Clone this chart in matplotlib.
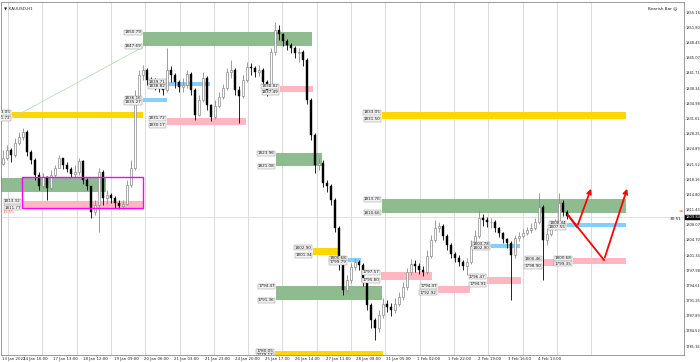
import matplotlib.pyplot as plt
import numpy as np
from matplotlib.patches import Rectangle
import matplotlib.transforms as mtransforms

# XAUUSD H1 candles (one candle per ~2.5 hours)
first_open = 1821.5
close = [1822.9, 1824.6, 1823.5, 1826.2, 1827.5, 1828.6, 1824.2, 1822.4, 1819.1, 1816.6,
         1818.6, 1816.2, 1819.1, 1820.6, 1822.9, 1821.3, 1820.4, 1819.3, 1819.8, 1822.2,
         1818.0, 1816.6, 1810.9, 1812.4, 1819.8, 1814.0, 1814.6, 1814.0, 1812.9, 1812.2,
         1812.6, 1816.9, 1820.6, 1835.7, 1841.3, 1842.4, 1840.2, 1839.7, 1839.5, 1839.0,
         1837.9, 1842.4, 1841.3, 1839.7, 1838.6, 1839.0, 1841.5, 1837.9, 1832.4, 1835.7,
         1840.6, 1834.6, 1832.0, 1834.4, 1836.4, 1838.4, 1841.9, 1842.4, 1837.9, 1836.6,
         1840.2, 1843.0, 1842.8, 1841.9, 1842.4, 1839.7, 1837.9, 1846.4, 1851.2, 1850.4,
         1848.8, 1847.9, 1847.3, 1846.1, 1846.4, 1844.6, 1835.7, 1828.0, 1821.3, 1821.7,
         1817.3, 1816.6, 1813.5, 1807.3, 1799.8, 1793.6, 1795.8, 1798.7, 1799.8, 1799.1,
         1795.4, 1790.3, 1786.9, 1785.2, 1788.0, 1790.5, 1789.8, 1789.2, 1790.5, 1792.0,
         1794.3, 1797.6, 1799.3, 1798.9, 1798.0, 1797.6, 1801.1, 1804.7, 1807.3, 1807.8,
         1805.6, 1803.6, 1801.6, 1800.7, 1799.8, 1798.9, 1799.8, 1803.3, 1805.6, 1809.5,
         1809.1, 1808.7, 1808.7, 1807.3, 1806.2, 1804.9, 1804.0, 1801.3, 1805.1, 1805.6,
         1806.2, 1806.9, 1807.3, 1808.7, 1812.0, 1804.7, 1805.9, 1807.8, 1808.4, 1812.9,
         1810.9, 1810.0]
high = [1824.6, 1825.7, 1825.1, 1827.3, 1828.6, 1829.5, 1829.1, 1824.6, 1822.9, 1819.8,
        1819.5, 1818.9, 1820.2, 1821.3, 1823.5, 1822.9, 1822.0, 1820.9, 1821.3, 1822.9,
        1822.4, 1818.4, 1816.6, 1813.5, 1820.6, 1820.2, 1815.8, 1815.1, 1814.4, 1813.5,
        1813.5, 1818.0, 1822.4, 1837.9, 1842.4, 1843.5, 1842.8, 1840.8, 1840.6, 1840.2,
        1839.7, 1847.3, 1843.3, 1841.7, 1840.2, 1840.6, 1842.4, 1841.9, 1838.4, 1836.8,
        1841.9, 1841.0, 1834.8, 1835.7, 1837.5, 1839.3, 1842.8, 1844.6, 1842.8, 1838.8,
        1841.3, 1844.1, 1843.9, 1843.3, 1843.5, 1842.8, 1840.2, 1847.3, 1853.0, 1852.3,
        1850.6, 1849.2, 1848.4, 1847.7, 1847.3, 1846.8, 1845.0, 1836.2, 1828.4, 1822.9,
        1822.4, 1818.0, 1817.1, 1814.0, 1807.8, 1800.2, 1796.9, 1799.6, 1800.7, 1800.2,
        1799.6, 1795.8, 1790.7, 1787.4, 1789.2, 1791.8, 1791.4, 1790.7, 1791.8, 1793.1,
        1795.4, 1798.5, 1800.4, 1800.2, 1799.6, 1798.9, 1802.5, 1805.8, 1809.1, 1808.7,
        1808.2, 1806.0, 1804.0, 1802.0, 1801.3, 1800.2, 1800.7, 1804.7, 1806.9, 1811.3,
        1810.4, 1809.8, 1809.5, 1809.1, 1807.6, 1806.4, 1805.1, 1804.4, 1805.8, 1806.4,
        1807.1, 1807.6, 1808.4, 1809.5, 1815.1, 1812.4, 1807.3, 1808.7, 1809.3, 1815.1,
        1813.5, 1811.3]
low = [1821.3, 1822.4, 1822.0, 1823.1, 1825.7, 1826.9, 1823.3, 1821.5, 1818.0, 1815.8,
       1816.2, 1813.5, 1815.8, 1818.4, 1820.6, 1820.4, 1819.8, 1818.6, 1818.4, 1819.1,
       1817.1, 1815.8, 1809.5, 1810.2, 1806.4, 1812.4, 1812.6, 1812.9, 1811.8, 1811.5,
       1811.5, 1812.4, 1816.4, 1820.2, 1835.3, 1840.2, 1839.0, 1838.4, 1837.9, 1837.5,
       1836.8, 1837.5, 1839.7, 1838.4, 1837.5, 1837.5, 1838.4, 1836.8, 1831.3, 1832.2,
       1835.3, 1833.5, 1831.1, 1831.5, 1833.9, 1835.9, 1837.9, 1840.6, 1836.8, 1830.6,
       1836.2, 1839.7, 1841.3, 1840.8, 1841.0, 1838.8, 1836.6, 1837.3, 1845.7, 1849.0,
       1847.7, 1846.8, 1846.1, 1845.0, 1844.1, 1843.3, 1834.8, 1826.9, 1819.5, 1820.2,
       1816.4, 1815.3, 1812.4, 1806.4, 1798.0, 1792.5, 1793.1, 1795.1, 1798.0, 1798.0,
       1794.5, 1789.2, 1785.2, 1782.5, 1784.3, 1787.4, 1788.7, 1787.8, 1788.5, 1790.0,
       1791.4, 1793.6, 1796.9, 1797.6, 1797.1, 1796.7, 1797.1, 1800.7, 1804.2, 1806.4,
       1804.7, 1802.5, 1800.7, 1799.8, 1798.9, 1798.0, 1797.0, 1799.3, 1802.9, 1805.1,
       1807.8, 1807.6, 1807.3, 1806.4, 1805.3, 1804.0, 1802.9, 1791.4, 1800.7, 1804.4,
       1805.1, 1805.8, 1806.2, 1806.9, 1808.2, 1795.8, 1803.6, 1805.6, 1806.9, 1807.8,
       1810.0, 1809.3]

# zones: (start bar, end bar, top price, bottom price)
green_zones = [(-1.25, 25.75, 1818.42, 1815.31), (35.0, 77.25, 1850.79, 1847.69),
               (68.25, 79.75, 1823.96, 1821.08), (68.25, 94.75, 1794.47, 1791.36),
               (94.75, 155.75, 1813.76, 1810.66)]
pink_zones = [(4.75, 35.0, 1813.32, 1811.77), (41.0, 60.75, 1831.72, 1830.17),
              (69.25, 77.5, 1838.82, 1837.49), (94.5, 107.25, 1797.57, 1795.80),
              (108.75, 116.75, 1794.47, 1792.92), (121.0, 129.5, 1796.47, 1794.91),
              (135.0, 137.75, 1800.46, 1798.90), (142.5, 155.75, 1800.68, 1799.35)]
blue_zones = [(35.0, 41.0, 1836.16, 1835.27), (41.0, 51.75, 1839.71, 1838.82),
              (86.25, 89.5, 1800.68, 1799.79), (122.0, 129.25, 1803.78, 1802.90),
              (141.0, 155.75, 1808.44, 1807.55)]
yellow_zones = [(2.25, 35.0, 1833.05, 1831.72), (77.5, 84.25, 1802.90, 1801.34),
                (68.0, 95.0, 1780.05, 1779.17), (94.75, 155.75, 1833.05, 1831.50)]
range_box = (4.75, 35.0, 1818.64, 1811.77)
trend_line = [(2.25, 1831.72), (35.0, 1847.47)]

# projected paths (red arrows)
path_a = [(141.25, 1810.21), (143.5, 1807.55), (147.25, 1816.64)]
path_b = [(141.25, 1810.21), (150.25, 1800.23), (156.25, 1816.64)]

bid = 1809.84
y_ticks = [1855.16, 1851.80, 1848.43, 1845.07, 1841.71, 1838.34, 1834.98, 1831.61,
           1828.25, 1824.89, 1821.52, 1818.16, 1814.80, 1811.43, 1808.07, 1804.70,
           1801.34, 1797.98, 1794.61, 1791.25, 1787.89, 1784.52, 1781.16]
x_labels = ["13 Jan 2022", "14 Jan 16:00", "17 Jan 13:00", "18 Jan 12:00", "19 Jan 09:00",
            "20 Jan 06:00", "21 Jan 03:00", "21 Jan 23:00", "24 Jan 20:00", "25 Jan 17:00",
            "26 Jan 14:00", "27 Jan 11:00", "28 Jan 08:00", "31 Jan 05:00", "1 Feb 02:00",
            "1 Feb 22:00", "2 Feb 19:00", "3 Feb 16:00", "4 Feb 13:00"]

fig = plt.figure(figsize=(7, 3.62), dpi=100)
ax = fig.add_axes([1 / 700, 7 / 362, 683 / 700, 353 / 362])
ax.set_xlim(-0.5, 170.25)
ax.set_ylim(1779.17, 1857.45)

# vertical grid
for gx in np.arange(18) * 8.575 + 1.25:
    ax.axvline(gx, color='#d4d4d4', lw=0.6, zorder=0)
ax.axhline(bid, color='#dcdcdc', lw=0.6, zorder=0)

lab_box = dict(boxstyle='square,pad=0.12', fc='#f2f2f2', ec='#8a8a8a', lw=0.3)


def draw_zones(zones, color):
    for s, e, top, bot in zones:
        ax.add_patch(Rectangle((s, bot), e - s, top - bot, fc=color, ec='none', zorder=1))
        if s > 0:
            for p in (top, bot):
                ax.text(s - 0.3, p, f"{p:.2f}", ha='right', va='center', fontsize=3.0,
                        color='#222222', bbox=lab_box, zorder=5, clip_on=True)


draw_zones(green_zones, '#8fbc8f')
draw_zones(pink_zones, '#ffb6c1')
draw_zones(blue_zones, '#87cefa')
draw_zones(yellow_zones, '#ffd700')

s, e, top, bot = range_box
ax.add_patch(Rectangle((s, bot), e - s, top - bot, fill=False, ec='#ff00ff', lw=1.0, zorder=4))
ax.plot([p[0] for p in trend_line], [p[1] for p in trend_line], color='#bcdcbc', lw=0.6, zorder=1)

# candles
c = np.array(close)
o = np.concatenate([[first_open], c[:-1]])
h = np.maximum(np.array(high), np.maximum(o, c))
lo = np.minimum(np.array(low), np.minimum(o, c))
x = np.arange(len(c))
bull = c >= o
ax.vlines(x[bull], lo[bull], h[bull], color='#8c8c8c', lw=0.6, zorder=3)
ax.vlines(x[~bull], lo[~bull], h[~bull], color='black', lw=0.6, zorder=3)
ax.bar(x[bull], np.maximum(c - o, 0.05)[bull], bottom=o[bull], width=0.5,
       color='white', edgecolor='#8c8c8c', lw=0.5, zorder=3)
ax.bar(x[~bull], (o - c)[~bull], bottom=c[~bull], width=0.5,
       color='black', edgecolor='black', lw=0.3, zorder=3)

# projection arrows
for path in (path_a, path_b):
    ax.plot([path[0][0], path[1][0]], [path[0][1], path[1][1]], color='red', lw=1.3, zorder=6)
    ax.annotate('', xy=path[2], xytext=path[1],
                arrowprops=dict(arrowstyle='->', color='red', lw=1.3, mutation_scale=7),
                zorder=6)

# axes styling
for sp in ax.spines.values():
    sp.set_color('#8a8a8a')
    sp.set_linewidth(0.6)
ax.yaxis.tick_right()
ax.set_yticks(y_ticks)
ax.set_yticklabels([f"{v:.2f}" for v in y_ticks])
xt = np.arange(len(x_labels)) * 7.57 + 0.5
xt[0] = -0.3
ax.set_xticks(xt)
ax.set_xticklabels(x_labels)
ax.get_xticklabels()[0].set_ha('left')
ax.tick_params(axis='x', labelsize=2.8, length=1.0, width=0.4, pad=0.4,
               colors='#8a8a8a', labelcolor='#222222')
ax.tick_params(axis='y', labelsize=2.6, length=1.0, width=0.4, pad=0.4,
               colors='#8a8a8a', labelcolor='#222222')

trans = mtransforms.blended_transform_factory(ax.transAxes, ax.transData)
ax.text(1.002, bid, f"{bid:.2f}", transform=trans, ha='left', va='center', fontsize=2.6,
        color='white', bbox=dict(boxstyle='square,pad=0.05', fc='black', ec='black'),
        clip_on=False, zorder=7)
ax.text(0.997, bid - 0.6, "30:51", transform=trans, ha='right', va='center', fontsize=3.0,
        color='#222222')
ax.text(0.999, bid + 1.2, "≈", transform=trans, ha='right', va='center', fontsize=4,
        color='#ff6040')
ax.text(0.003, bid + 1.0, "13:55", transform=trans, ha='left', va='center', fontsize=3.0,
        color='#ff6040')
ax.text(0.004, 0.988, "▼ XAUUSD,H1", transform=ax.transAxes, ha='left', va='top',
        fontsize=3.0, color='#222222')
ax.text(0.99, 0.988, "Bearish Bar ☺", transform=ax.transAxes, ha='right', va='top',
        fontsize=3.0, color='#222222')

fig.savefig('out.png', dpi=100)
